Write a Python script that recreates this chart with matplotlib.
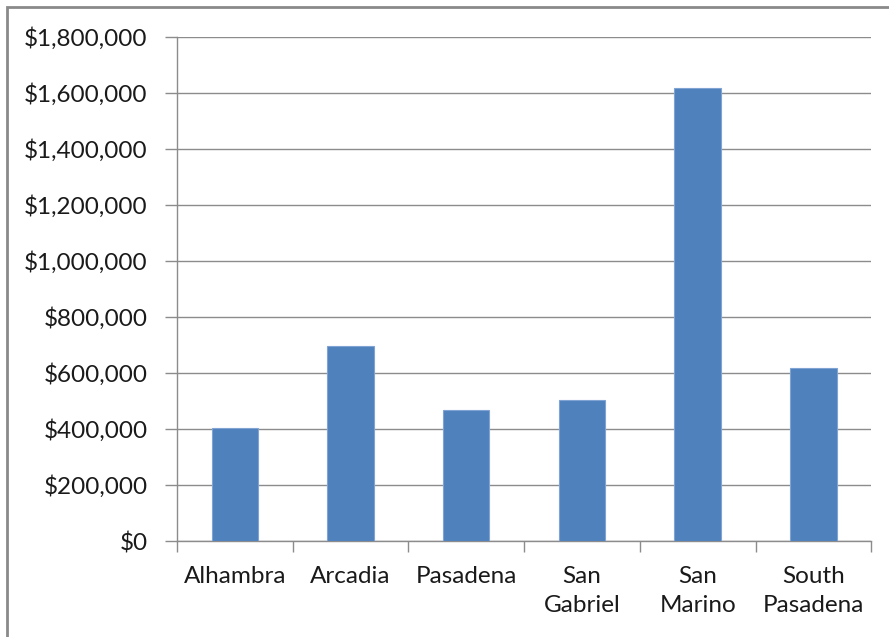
import matplotlib.pyplot as plt
from matplotlib.ticker import FuncFormatter, FixedLocator
from matplotlib.patches import Rectangle

plt.rcParams['font.family'] = ['Lato', 'DejaVu Sans']

# data
cities = ['Alhambra', 'Arcadia', 'Pasadena', 'San\nGabriel', 'San\nMarino', 'South\nPasadena']
prices = [402000, 697000, 468000, 503000, 1617000, 619000]
y_ticks = list(range(0, 1800001, 200000))

fig = plt.figure(figsize=(8.89, 6.37), dpi=100)
ax = fig.add_axes([0.199, 0.1507, 0.781, 0.7913])

xs = list(range(len(cities)))
ax.bar(xs, prices, width=0.4, color='#4F81BD', edgecolor='#7FA3D3', linewidth=0.8, zorder=3)

ax.set_xlim(-0.5, len(cities) - 0.5)
ax.set_ylim(0, 1800000)
ax.set_yticks(y_ticks)
ax.yaxis.set_major_formatter(FuncFormatter(lambda v, p: f'${v:,.0f}'))
ax.grid(axis='y', color='#8C8C8C', linewidth=1, zorder=1)

ax.set_xticks(xs)
ax.set_xticklabels(cities, linespacing=1.45)
ax.xaxis.set_minor_locator(FixedLocator([i - 0.5 for i in range(len(cities) + 1)]))
ax.tick_params(axis='x', which='major', length=0, pad=18, labelsize=17.5, colors='#1a1a1a')
ax.tick_params(axis='x', which='minor', length=8, width=1, color='#8C8C8C', direction='out')
ax.tick_params(axis='y', length=9, width=1, color='#8C8C8C', pad=12, labelsize=17.5, labelcolor='#1a1a1a')

for side in ['top', 'right']:
    ax.spines[side].set_visible(False)
for side in ['left', 'bottom']:
    ax.spines[side].set_color('#8C8C8C')
    ax.spines[side].set_linewidth(1)

# outer chart frame (cut off on right and bottom like the screenshot)
fig.patches.append(Rectangle((0.008, -0.05), 1.2, 0.94 + 0.05 + 0.0495, transform=fig.transFigure,
                             fill=False, edgecolor='#8A8A8A', linewidth=2))

fig.savefig('out.png', dpi=100)
